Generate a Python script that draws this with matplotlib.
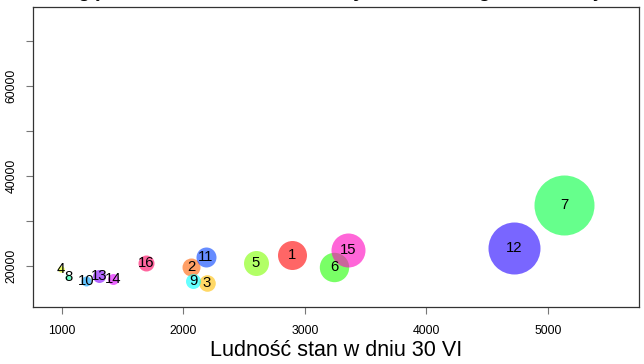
import numpy as np
import matplotlib
matplotlib.use("Agg")
from matplotlib import pyplot as plt
from matplotlib.colors import hsv_to_rgb

plt.rcParams['font.family'] = ['Liberation Sans', 'DejaVu Sans']

# dane
nr = [str(i) for i in range(1, 17)]
ludnosc = [2895, 2064, 2196, 995, 2599, 3240, 5132, 1053,
           2081, 1201, 2187, 4720, 1308, 1423, 3355, 1694]
wartosc = [22450, 19800, 16250, 19350, 20700, 19800, 33600, 17600,
           16700, 16700, 22000, 24000, 17800, 17100, 23600, 20700]
# trzecia zmienna (promien bąbla)
wielkosc = [14.5, 9, 8.3, 3.3, 12.5, 14.7, 30, 3,
            7.5, 5, 10, 26, 6.5, 5.5, 17, 8]

tytul = "Zależność gęstości zaludnienia od liczby ludności w gminach województwa"

# kolory jak rainbow(16) w R
n = len(nr)
kolory = [hsv_to_rgb((i / n, 1, 1)) for i in range(n)]

fig = plt.figure(figsize=(6.44, 3.64), dpi=100)
ax = fig.add_axes([33 / 644, 1 - 307 / 364, 606 / 644, 300 / 364])

rozm = (1.44 * np.array(wielkosc)) ** 2
for i in range(n):
    ax.scatter(ludnosc[i], wartosc[i], s=rozm[i], color=kolory[i],
               alpha=0.6, linewidths=0, zorder=2)
for i in range(n):
    ax.text(ludnosc[i], wartosc[i], nr[i], ha='center', va='center',
            fontsize=10.7, color='black', zorder=3)

ax.set_xlim(765, 5748)
ax.set_ylim(10956, 77556)
ax.set_xticks([1000, 2000, 3000, 4000, 5000])
ax.set_yticks(range(20000, 80000, 10000))
ax.set_yticklabels(["20000", "", "40000", "", "60000", ""])
ax.tick_params(axis='both', direction='out', length=4.8, width=0.8,
               color='#777777', labelsize=8.8)
ax.tick_params(axis='x', pad=8)
ax.tick_params(axis='y', pad=6.5)
for lab in ax.get_yticklabels():
    lab.set_rotation(90)
    lab.set_va('center')
for sp in ax.spines.values():
    sp.set_linewidth(0.9)
    sp.set_color('#333333')

ax.set_xlabel("Ludność stan w dniu 30 VI", fontsize=15.5, labelpad=2)

fig.text(0.52, 1 + 3 / 364, tytul, ha='center', va='baseline',
         fontsize=14.4, fontweight='bold')

plt.savefig("out.png", dpi=100)
